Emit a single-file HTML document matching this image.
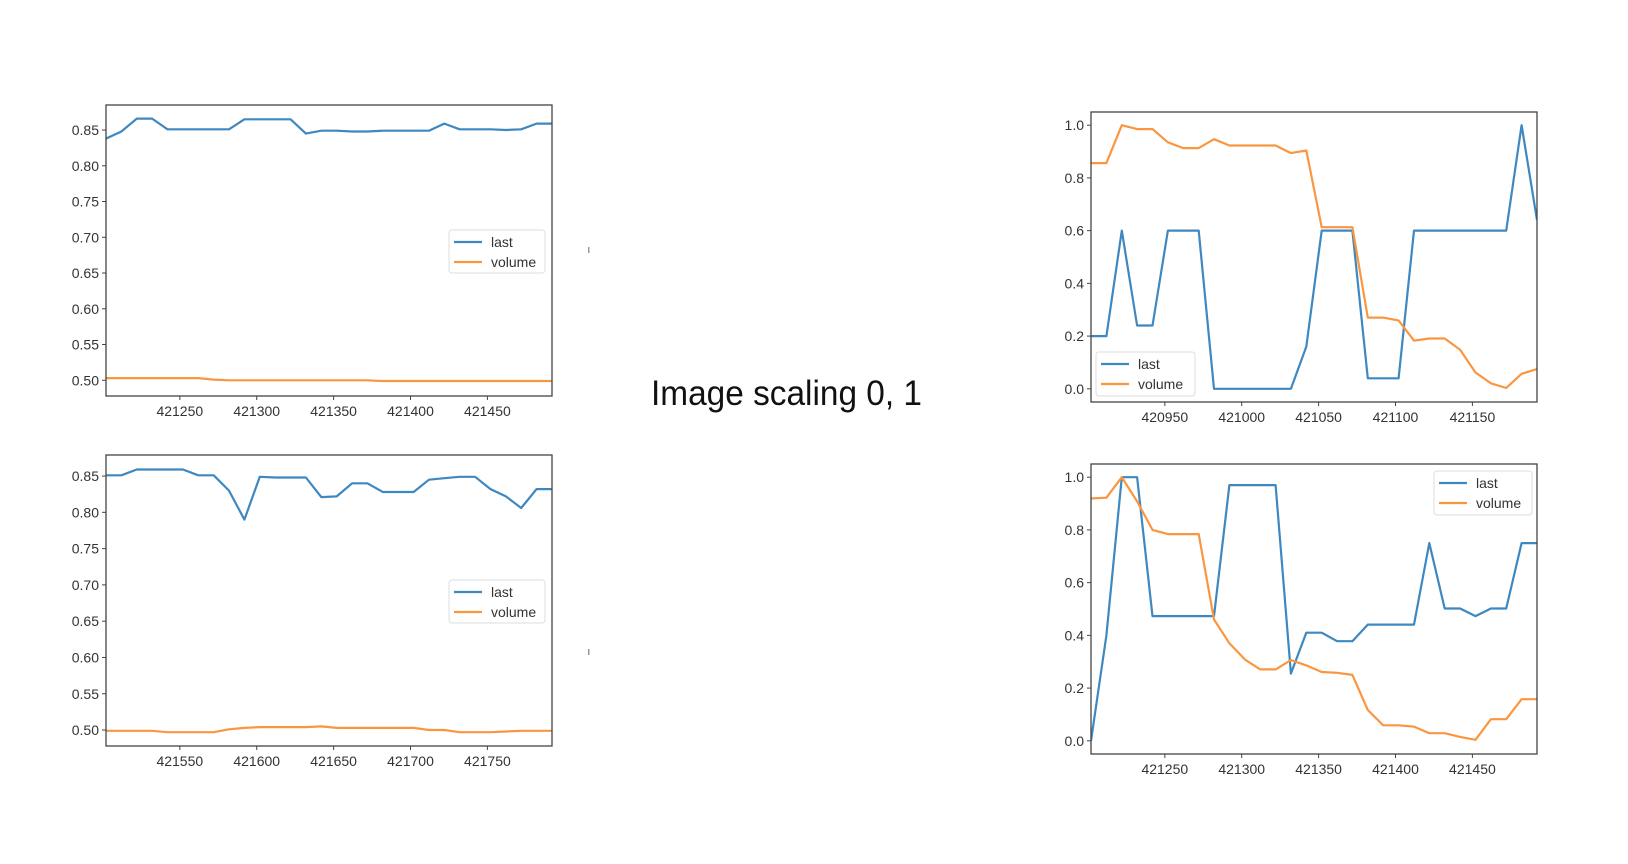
<!DOCTYPE html>
<html><head><meta charset="utf-8"><style>
html,body{margin:0;padding:0;background:#fff;}
svg{display:block;}
text{font-family:"Liberation Sans",sans-serif;}
</style></head><body>
<svg id="s" width="1628" height="864" viewBox="0 0 1628 864">
<rect width="1628" height="864" fill="#fff"/>
<text x="651" y="405" font-size="35" fill="#111" textLength="271" lengthAdjust="spacingAndGlyphs">Image scaling 0, 1</text>
<rect x="588" y="247" width="1.5" height="6" fill="#999"/>
<rect x="588" y="649" width="1.5" height="6" fill="#999"/>
</svg>
<script>
// ---- chart data (x = start + 10*i) ----
const tlLast = [0.838,0.848,0.866,0.866,0.851,0.851,0.851,0.851,0.851,0.865,0.865,0.865,0.865,0.845,0.849,0.849,0.848,0.848,0.849,0.849,0.849,0.849,0.859,0.851,0.851,0.851,0.850,0.851,0.859,0.859];
const tlVolume = [0.503,0.503,0.503,0.503,0.503,0.503,0.503,0.501,0.500,0.500,0.500,0.500,0.500,0.500,0.500,0.500,0.500,0.500,0.499,0.499,0.499,0.499,0.499,0.499,0.499,0.499,0.499,0.499,0.499,0.499];
const blLast = [0.851,0.851,0.859,0.859,0.859,0.859,0.851,0.851,0.830,0.790,0.849,0.848,0.848,0.848,0.821,0.822,0.840,0.840,0.828,0.828,0.828,0.845,0.847,0.849,0.849,0.832,0.822,0.806,0.832,0.832];
const blVolume = [0.499,0.499,0.499,0.499,0.497,0.497,0.497,0.497,0.501,0.503,0.504,0.504,0.504,0.504,0.505,0.503,0.503,0.503,0.503,0.503,0.503,0.500,0.500,0.497,0.497,0.497,0.498,0.499,0.499,0.499];
const trLast = [0.2,0.2,0.6,0.24,0.24,0.6,0.6,0.6,0,0,0,0,0,0,0.16,0.6,0.6,0.6,0.04,0.04,0.04,0.6,0.6,0.6,0.6,0.6,0.6,0.6,1.0,0.64];
const trVolume = [0.856,0.856,1.0,0.985,0.985,0.935,0.913,0.913,0.947,0.923,0.923,0.923,0.923,0.894,0.904,0.613,0.613,0.613,0.27,0.27,0.259,0.183,0.191,0.191,0.148,0.062,0.021,0.003,0.057,0.075];
const brLast = [0.0,0.40,1.0,1.0,0.473,0.473,0.473,0.473,0.473,0.97,0.97,0.97,0.97,0.255,0.41,0.41,0.378,0.378,0.441,0.441,0.441,0.441,0.75,0.502,0.502,0.473,0.502,0.502,0.75,0.75];
const brVolume = [0.919,0.922,1.0,0.908,0.80,0.784,0.784,0.784,0.46,0.37,0.309,0.271,0.271,0.306,0.286,0.261,0.258,0.250,0.117,0.059,0.059,0.054,0.029,0.029,0.015,0.004,0.082,0.082,0.158,0.158];
const xStarts = [421202, 421502, 420902, 421202];
const tlXTicks = [421250,421300,421350,421400,421450];
const blXTicks = [421550,421600,421650,421700,421750];
const trXTicks = [420950,421000,421050,421100,421150];
const brXTicks = [421250,421300,421350,421400,421450];
const smallYTicks = [0.50,0.55,0.60,0.65,0.70,0.75,0.80,0.85];
const unitYTicks = [0.0,0.2,0.4,0.6,0.8,1.0];

const NS = "http://www.w3.org/2000/svg";
const svg = document.getElementById('s');
function mk(tag, attrs, parent){
  const e = document.createElementNS(NS, tag);
  for (const k in attrs) e.setAttribute(k, attrs[k]);
  (parent||svg).appendChild(e);
  return e;
}
const BLUE = "#3d88c1", ORANGE = "#fb9640";

function chart(cfg){
  const g = mk('g', {});
  
  
  const {x0,x1,y0,y1,xmin,xmax,ymin,ymax} = cfg;
  const sx = v => x0 + (v - xmin) / (xmax - xmin) * (x1 - x0);
  const sy = v => y1 - (v - ymin) / (ymax - ymin) * (y1 - y0);
  cfg.yTicks.forEach(t => {
    const y = sy(t);
    const ln = mk('line', {x1:x0-4, x2:x0, y1:y, y2:y, stroke:"#444", "stroke-width":1}, g);
    
    
    const tx = mk('text', {x:x0-7, y:y+5, "font-size":14, fill:"#333", "text-anchor":"end"}, g);
    tx.textContent = t.toFixed(cfg.yDec);
    
    
  });
  cfg.xTicks.forEach(t => {
    const x = sx(t);
    const ln = mk('line', {x1:x, x2:x, y1:y1, y2:y1+4, stroke:"#444", "stroke-width":1}, g);
    
    
    const tx = mk('text', {x:x, y:y1+20, "font-size":14, fill:"#333", "text-anchor":"middle"}, g);
    tx.textContent = String(t);
    
    
  });
  const clipId = cfg.name + '-clip';
  const cp = mk('clipPath', {id: clipId}, g);
  mk('rect', {x:x0, y:y0, width:x1-x0, height:y1-y0}, cp);
  [[cfg.last, BLUE, 'last'], [cfg.volume, ORANGE, 'volume']].forEach(([arr, col, nm]) => {
    const pts = arr.map((v,i) => sx(cfg.xStart + 10*i).toFixed(1) + ',' + sy(v).toFixed(1)).join(' ');
    const pl = mk('polyline', {points: pts, fill:"none", stroke:col, "stroke-width":2.2, "stroke-linejoin":"round", "clip-path":"url(#"+clipId+")"}, g);
    
    
  });
  const frame = mk('rect', {x:x0, y:y0, width:x1-x0, height:y1-y0, fill:"none", stroke:"#444", "stroke-width":1.3}, g);
  
  
  const L = cfg.legend;
  const lg = mk('g', {}, g);
  
  
  mk('rect', {x:L[0], y:L[1], width:L[2]-L[0], height:L[3]-L[1], rx:3, fill:"#fff", "fill-opacity":0.85, stroke:"#ddd", "stroke-width":1}, lg);
  [['last', BLUE], ['volume', ORANGE]].forEach(([nm, col], k) => {
    const yy = L[1] + 12 + k*20;
    const ent = mk('g', {}, lg);
    
    
    mk('line', {x1:L[0]+5, x2:L[0]+33, y1:yy, y2:yy, stroke:col, "stroke-width":2.2}, ent);
    const t = mk('text', {x:L[0]+42, y:yy+5, "font-size":14, fill:"#333"}, ent);
    t.textContent = nm;
  });
}

chart({name:'chart-top-left', x0:106, x1:552, y0:105, y1:396, xmin:421202, xmax:421492, ymin:0.478, ymax:0.885,
  xStart:xStarts[0], last:tlLast, volume:tlVolume, xTicks:tlXTicks, yTicks:smallYTicks, yDec:2, legend:[449,230,545,273]});
chart({name:'chart-bottom-left', x0:106, x1:552, y0:455, y1:746, xmin:421502, xmax:421792, ymin:0.478, ymax:0.879,
  xStart:xStarts[1], last:blLast, volume:blVolume, xTicks:blXTicks, yTicks:smallYTicks, yDec:2, legend:[449,580,545,623]});
chart({name:'chart-top-right', x0:1091, x1:1537, y0:112, y1:402, xmin:420902, xmax:421192, ymin:-0.05, ymax:1.05,
  xStart:xStarts[2], last:trLast, volume:trVolume, xTicks:trXTicks, yTicks:unitYTicks, yDec:1, legend:[1096,352,1195,396]});
chart({name:'chart-bottom-right', x0:1091, x1:1537, y0:464, y1:754, xmin:421202, xmax:421492, ymin:-0.05, ymax:1.05,
  xStart:xStarts[3], last:brLast, volume:brVolume, xTicks:brXTicks, yTicks:unitYTicks, yDec:1, legend:[1434,471,1532,515]});
</script>
</body></html>
